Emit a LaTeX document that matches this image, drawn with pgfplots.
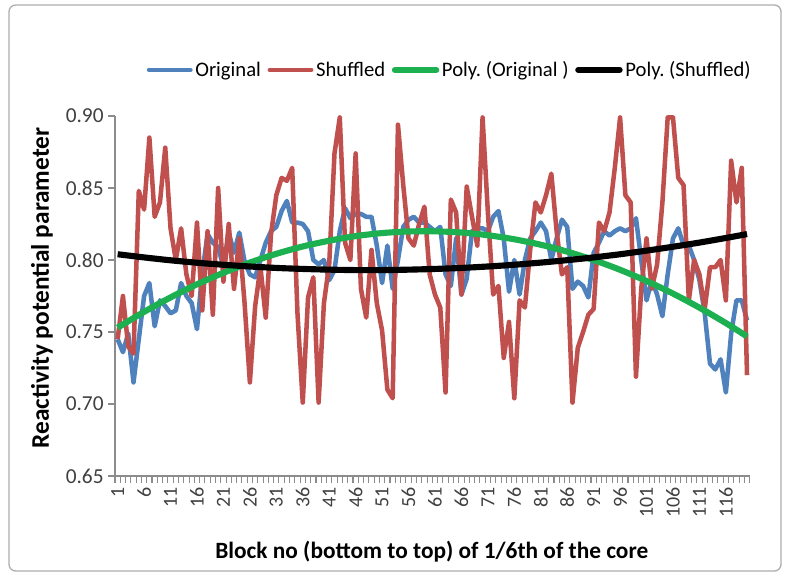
\documentclass[border=0pt]{standalone}
\usepackage{fontspec}
\setmainfont{Carlito}
\usepackage{pgfplots}
\usepackage{pgfplotstable}
\pgfplotsset{compat=1.18}
\frenchspacing

\definecolor{origblue}{HTML}{4F81BD}
\definecolor{shufred}{HTML}{C0504D}
\definecolor{polygreen}{HTML}{1DB050}
\definecolor{axisgray}{HTML}{8C8C8C}

% block, original, shuffled
\pgfplotstableread{
block orig shuf
1 0.745 0.745
2 0.736 0.775
3 0.749 0.740
4 0.715 0.735
5 0.745 0.848
6 0.775 0.835
7 0.784 0.885
8 0.754 0.830
9 0.772 0.840
10 0.768 0.878
11 0.763 0.822
12 0.765 0.800
13 0.784 0.822
14 0.775 0.790
15 0.770 0.775
16 0.752 0.826
17 0.791 0.765
18 0.818 0.820
19 0.812 0.762
20 0.809 0.850
21 0.795 0.785
22 0.819 0.825
23 0.805 0.780
24 0.819 0.815
25 0.799 0.770
26 0.790 0.715
27 0.788 0.768
28 0.800 0.795
29 0.812 0.760
30 0.820 0.818
31 0.823 0.845
32 0.834 0.857
33 0.841 0.855
34 0.826 0.864
35 0.826 0.763
36 0.825 0.701
37 0.820 0.774
38 0.800 0.788
39 0.797 0.701
40 0.800 0.770
41 0.786 0.797
42 0.793 0.874
43 0.820 0.899
44 0.836 0.812
45 0.829 0.800
46 0.832 0.874
47 0.832 0.780
48 0.830 0.760
49 0.830 0.807
50 0.810 0.770
51 0.784 0.751
52 0.810 0.710
53 0.780 0.704
54 0.800 0.894
55 0.823 0.852
56 0.828 0.815
57 0.830 0.810
58 0.826 0.825
59 0.826 0.837
60 0.823 0.790
61 0.820 0.776
62 0.823 0.767
63 0.790 0.708
64 0.782 0.842
65 0.815 0.833
66 0.776 0.776
67 0.787 0.851
68 0.820 0.830
69 0.822 0.810
70 0.822 0.899
71 0.820 0.833
72 0.830 0.776
73 0.834 0.782
74 0.815 0.732
75 0.778 0.757
76 0.800 0.704
77 0.776 0.772
78 0.800 0.767
79 0.815 0.807
80 0.820 0.840
81 0.826 0.833
82 0.820 0.845
83 0.800 0.860
84 0.815 0.820
85 0.828 0.790
86 0.823 0.795
87 0.780 0.701
88 0.785 0.739
89 0.782 0.750
90 0.774 0.762
91 0.805 0.766
92 0.812 0.826
93 0.820 0.820
94 0.817 0.833
95 0.820 0.864
96 0.822 0.899
97 0.820 0.845
98 0.822 0.840
99 0.829 0.719
100 0.800 0.780
101 0.772 0.815
102 0.786 0.780
103 0.776 0.797
104 0.761 0.840
105 0.790 0.899
106 0.815 0.899
107 0.822 0.857
108 0.810 0.852
109 0.810 0.772
110 0.800 0.800
111 0.786 0.790
112 0.763 0.766
113 0.728 0.795
114 0.724 0.795
115 0.731 0.800
116 0.708 0.772
117 0.749 0.869
118 0.772 0.840
119 0.772 0.864
120 0.758 0.720
}\blocks

% polynomial trend lines
\pgfplotstableread{
block porig pshuf
1 0.7530 0.8040
6 0.7640 0.8018
11 0.7740 0.7998
16 0.7831 0.7981
21 0.7911 0.7967
26 0.7982 0.7955
31 0.8043 0.7945
36 0.8094 0.7938
41 0.8134 0.7933
46 0.8166 0.7930
51 0.8187 0.7930
56 0.8198 0.7933
61 0.8199 0.7938
66 0.8191 0.7945
71 0.8172 0.7955
76 0.8144 0.7967
81 0.8106 0.7982
86 0.8058 0.7999
91 0.8000 0.8018
96 0.7932 0.8040
101 0.7854 0.8065
106 0.7767 0.8092
111 0.7669 0.8121
116 0.7562 0.8153
120 0.7469 0.8180
}\trends

\begin{document}
\begin{tikzpicture}
\path[use as bounding box] (0,0) rectangle (591pt,432pt);
\draw[axisgray!70, line width=1pt, rounded corners=5pt] (6.75pt,3.75pt) rectangle (585.75pt,428.25pt);
\begin{axis}[
  at={(86.25pt,75pt)}, anchor=south west,
  width=476pt, height=270pt, scale only axis,
  xmin=0.5, xmax=120.5, ymin=0.65, ymax=0.90,
  axis lines*=left,
  axis line style={axisgray, line width=1.5pt},
  tick align=outside,
  ytick={0.65,0.70,0.75,0.80,0.85,0.90},
  yticklabel style={font=\fontsize{16}{16}\selectfont, color=black!75,
    /pgf/number format/fixed, /pgf/number format/fixed zerofill,
    /pgf/number format/precision=2, /pgf/number format/assume math mode=true},
  y tick style={axisgray, line width=1pt},
  major tick length=5pt,
  xtick={1,6,...,116},
  major x tick style={draw=none},
  minor xtick={0.5,1.5,...,120.5},
  minor x tick style={axisgray, line width=0.8pt},
  minor tick length=5pt,
  xticklabel style={rotate=90, anchor=east, color=black!75, font=\fontsize{15}{15}\selectfont, /pgf/number format/assume math mode=true},
  xlabel={\textbf{Block no (bottom to top) of 1/6th of the core}},
  xlabel style={at={(axis description cs:0.499,-0.211)}, anchor=center, font=\fontsize{17.5}{17.5}\selectfont},
  ylabel={\textbf{Reactivity potential parameter}},
  ylabel style={at={(axis description cs:-0.115,0.522)}, anchor=center, font=\fontsize{19}{19}\selectfont},
  clip=false,
  legend columns=4,
  legend style={at={(axis description cs:0.528,1.128)}, anchor=center, draw=none, fill=none,
    font=\fontsize{15.5}{15.5}\selectfont,
    /tikz/every even column/.append style={column sep=3pt}},
  legend image code/.code={\draw[#1, line cap=round] (0pt,0pt) -- (31pt,0pt);},
  line join=round,
]
\addplot[origblue, line width=3.4pt] table[x=block, y=orig] {\blocks};
\addlegendentry{Original}
\addplot[shufred, line width=3.4pt] table[x=block, y=shuf] {\blocks};
\addlegendentry{Shuffled}
\addplot[polygreen, line width=4.6pt, smooth] table[x=block, y=porig] {\trends};
\addlegendentry{Poly. (Original )}
\addplot[black, line width=4.6pt, smooth] table[x=block, y=pshuf] {\trends};
\addlegendentry{Poly. (Shuffled)}
\end{axis}
\end{tikzpicture}
\end{document}
